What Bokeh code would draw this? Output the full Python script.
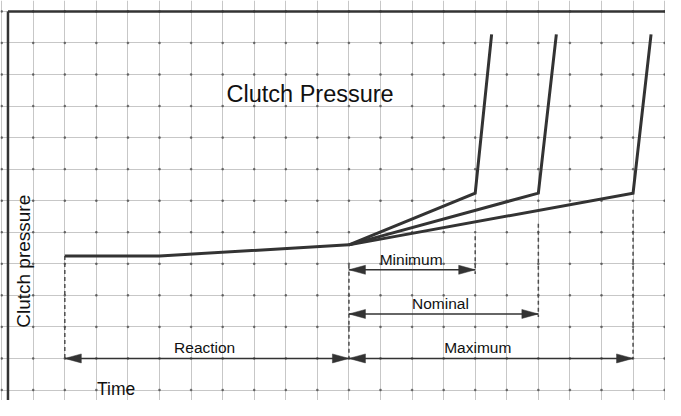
from bokeh.plotting import figure
from bokeh.models import Range1d, FixedTicker
from bokeh.core.properties import value
from bokeh.embed import file_html
from bokeh.resources import INLINE

# ---- data (one grid square = 1 unit of time / pressure) ----
curve_t = [0, 3, 9]
curve_p = [5.25, 5.25, 5.6]

branch_names = ["Minimum", "Nominal", "Maximum"]
branch_kink_t = [13, 15, 18]
branch_kink_p = [7.24, 7.24, 7.24]
branch_top_t = [13.52, 15.57, 18.57]
branch_top_p = [12.27, 12.27, 12.27]

dash_t = [0, 9, 13, 15, 18]
dash_top = [5.25, 4.97, 5.87, 6.27, 6.71]
dash_bottom = [2.0, 2.0, 4.68, 3.31, 2.0]

arrow_names = ["Reaction", "Minimum", "Nominal", "Maximum"]
arrow_start = [0, 9, 9, 9]
arrow_end = [9, 13, 15, 18]
arrow_p = [2.0, 4.81, 3.41, 2.0]
arrow_label_t = [4.43, 10.97, 11.9, 13.08]

grid_t = list(range(-2, 21))
grid_p = list(range(1, 14))

frame_left_t = -1.80
frame_top_p = 13

title_text = "Clutch Pressure"
title_t, title_p = 7.77, 10.38
xlabel_text = "Time"
xlabel_t, xlabel_p = 1.02, 1.02
ylabel_text = "Clutch pressure"
ylabel_t, ylabel_p = -1.32, 5.08

# ---- figure ----
W, H = 665, 400
UX, UY = 31.57, 31.55  # pixels per grid unit
p = figure(width=W, height=H, output_backend="svg", toolbar_location=None,
           x_range=Range1d(-64.3 / UX, (W - 64.3) / UX),
           y_range=Range1d(5 - (H - 263.3) / UY, 5 + 263.3 / UY),
           min_border=0)
p.outline_line_color = None
p.xaxis.visible = False
p.yaxis.visible = False
p.xgrid.ticker = FixedTicker(ticks=grid_t)
p.ygrid.ticker = FixedTicker(ticks=grid_p)
for g in (p.xgrid, p.ygrid):
    g.grid_line_color = "#000000"
    g.grid_line_alpha = 0.22
    g.grid_line_width = 1

# grid intersection dots
dx, dy = [], []
for t in grid_t:
    for v in grid_p:
        dx.append(t)
        dy.append(v)
p.scatter(dx, dy, marker="square", size=1.5, color="#555555", alpha=0.7)

# frame (left and top edges)
p.segment(x0=[frame_left_t, frame_left_t], y0=[0.0, frame_top_p],
          x1=[frame_left_t, 25], y1=[frame_top_p, frame_top_p],
          line_color="#333333", line_width=2.5)

# dashed guides
p.segment(x0=dash_t, y0=dash_top, x1=dash_t, y1=dash_bottom,
          line_color="#4d4d4d", line_width=1.5, line_dash="4 3")

# dimension arrows
p.segment(x0=arrow_start, y0=arrow_p, x1=arrow_end, y1=arrow_p,
          line_color="#333333", line_width=1.4)
L = 16.5 / UX
HW = 4.5 / UY
xs, ys = [], []
for a, b, v in zip(arrow_start, arrow_end, arrow_p):
    xs.append([a, a + L, a + L]); ys.append([v, v + HW, v - HW])
    xs.append([b, b - L, b - L]); ys.append([v, v + HW, v - HW])
p.patches(xs, ys, fill_color="#333333", line_color="#333333", line_width=0.5)

# pressure curves
p.line(curve_t, curve_p, line_color="#333333", line_width=3)
for kt, kp, tt, tp in zip(branch_kink_t, branch_kink_p, branch_top_t, branch_top_p):
    p.line([curve_t[-1], kt, tt], [curve_p[-1], kp, tp],
           line_color="#333333", line_width=3, line_join="miter")

font = value("Liberation Sans")
# arrow labels (centred ~10.5 px above their arrow)
label_p = [v + 10.5 / UY for v in arrow_p]
p.text(x=arrow_label_t, y=label_p, text=arrow_names, text_align="center",
       text_baseline="middle", text_font=font,
       text_font_size="15.5px", text_color="#111111")

# title and axis labels
p.text(x=[title_t], y=[title_p], text=[title_text], text_align="center",
       text_baseline="middle", text_font=font, text_font_size="23.5px",
       text_color="#111111")
p.text(x=[xlabel_t], y=[xlabel_p], text=[xlabel_text], text_align="left",
       text_baseline="middle", text_font=font,
       text_font_size="17.5px", text_color="#111111")
p.text(x=[ylabel_t], y=[ylabel_p], text=[ylabel_text], text_align="center",
       text_baseline="middle", angle=1.5707963, text_font=font,
       text_font_size="19px", text_color="#111111")

open("out.html", "w").write(file_html(p, INLINE))
